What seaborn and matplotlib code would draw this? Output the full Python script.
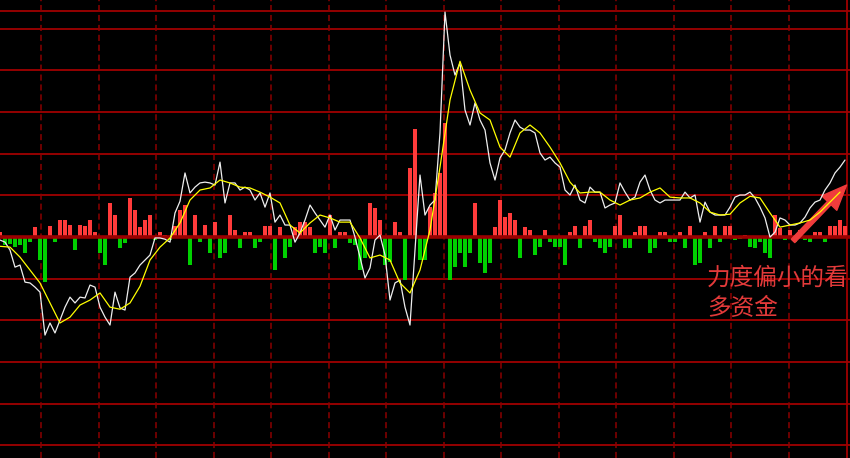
import numpy as np
import pandas as pd
import matplotlib
matplotlib.use("Agg")
import matplotlib.pyplot as plt
import seaborn as sns


# White intraday line (one value every 5 px along the time axis)
price = [-0.7, -1.2, -3.1, -7.2, -6.7, -10.8, -11.0, -12.0, -13.2, -23.5,
         -20.6, -23.0, -19.9, -16.8, -14.4, -15.8, -14.4, -14.6, -11.5, -12.0,
         -16.8, -19.2, -21.1, -13.2, -17.0, -17.5, -9.6, -8.6, -6.7, -5.5,
         -4.3, -0.2, -0.2, -0.5, -1.2, 5.8, 8.6, 15.4, 10.6, 12.0,
         13.0, 13.2, 13.0, 12.5, 18.0, 8.2, 13.0, 13.0, 11.3, 12.0,
         11.3, 8.9, 10.6, 7.2, 10.6, 3.6, 5.3, 2.9, 2.9, -1.2,
         1.0, 4.1, 7.7, 5.8, 4.1, 2.4, 5.3, 1.7, 4.1, 4.1,
         4.1, 0.0, -4.8, -9.8, -7.4, -0.7, 0.5, -4.3, -15.1, -11.0,
         -10.3, -16.8, -21.1, -3.1, 14.9, 5.3, 7.7, 8.9, 25.0, 54.0,
         43.7, 38.9, 41.8, 30.5, 26.9, 32.2, 28.1, 25.7, 17.8, 13.7,
         19.0, 20.9, 25.0, 28.1, 26.4, 25.7, 25.7, 25.0, 20.2, 18.5,
         19.2, 17.8, 16.8, 11.3, 10.1, 12.5, 8.9, 8.2, 12.0, 10.8,
         10.8, 7.0, 7.7, 8.2, 13.0, 10.8, 8.9, 9.6, 13.2, 14.9,
         11.3, 8.9, 8.2, 8.9, 8.9, 8.9, 8.9, 10.8, 9.4, 10.1,
         3.6, 8.4, 6.0, 5.3, 5.3, 5.3, 7.2, 9.6, 10.1, 10.1,
         10.8, 9.4, 7.2, 4.6, 0.0, 1.2, 4.6, 4.1, 2.9, 2.9,
         3.4, 4.8, 7.0, 8.4, 8.9, 11.3, 13.0, 15.4, 16.8, 18.5]

# Yellow average line (every other step)
avg = [-2.2, -2.4, -4.8, -7.9, -11.0, -15.8, -20.6, -19.2, -16.3, -15.1,
       -13.4, -16.8, -17.3, -15.8, -11.8, -5.5, -2.4, -0.2, 3.4, 8.9,
       11.3, 11.8, 13.7, 13.0, 12.0, 11.8, 10.8, 9.6, 8.2, 2.9,
       1.0, 3.4, 5.3, 4.6, 3.6, 3.6, -0.2, -5.0, -4.3, -5.5,
       -11.0, -13.4, -7.9, 1.7, 16.8, 32.9, 42.2, 35.3, 29.8, 28.1,
       21.6, 19.2, 25.0, 26.9, 25.0, 21.6, 17.8, 13.2, 10.6, 10.8,
       10.8, 8.9, 7.7, 8.9, 9.4, 10.8, 11.8, 9.6, 9.4, 9.4,
       8.2, 6.0, 5.3, 5.5, 8.2, 9.8, 9.4, 5.8, 2.4, 2.9,
       3.4, 4.1, 6.0, 8.4, 10.8]

# Money flow bars (red = in, green = out)
flow = [1.2, -1.9, -1.7, -2.4, -1.9, -3.8, -1.2, 2.4, -5.5, -10.8,
        2.6, -1.2, 4.1, 4.1, 2.9, -3.1, 2.9, 2.6, 4.1, 1.2,
        -3.8, -6.7, 8.2, 5.3, -2.6, -1.4, 9.4, 6.5, 2.4, 4.1,
        5.3, -0.7, 1.2, 0.5, -0.7, 2.6, 6.5, 7.7, -6.7, 5.3,
        -1.2, 2.9, -3.8, 3.6, -5.0, -3.8, 5.3, 1.7, -2.6, 1.2,
        1.2, -2.6, -1.2, 2.6, 2.6, -7.9, 2.4, -5.0, -2.4, 2.4,
        3.6, 3.6, 2.4, -3.8, -2.4, -3.8, 5.3, -2.6, 1.2, 1.2,
        -1.4, -1.9, -7.9, -5.0, 8.2, 7.0, 4.1, -6.7, -6.0, 3.6,
        1.2, -10.3, 16.6, 25.9, -5.5, -5.5, 7.2, 10.6, 15.4, 27.4,
        -10.3, -7.2, -3.8, -7.2, -3.8, 8.2, -6.2, -8.6, -6.2, 2.4,
        8.9, 4.8, 5.8, 4.1, -5.0, 2.4, 1.7, -4.3, -2.4, 1.7,
        -1.2, -2.4, -2.4, -6.7, 1.2, 2.6, -2.6, 2.6, 4.1, -1.2,
        -2.6, -3.8, -2.4, 2.6, 5.3, -2.6, -2.6, 1.2, 2.6, 2.6,
        -3.8, -2.6, 1.2, 1.2, -1.2, -1.2, 1.2, -2.6, 2.6, -6.7,
        -6.2, 1.2, -2.6, 2.6, -1.2, 2.6, 2.6, -0.7, -0.5, 0.5,
        -2.4, -2.6, -1.2, -3.8, -5.0, 5.3, 2.2, -0.7, 1.7, -1.2,
        1.7, -0.7, -1.2, 1.2, 1.2, -1.2, 2.6, 2.6, 4.1, 2.6]

note = "力度偏小的看\n多资金"

sns.set_theme(style="dark")
plt.rcParams['font.family'] = ['Noto Sans CJK SC', 'DejaVu Sans']

t = np.arange(len(price))
t_avg = np.arange(len(avg)) * 2

df_bar = pd.DataFrame({"t": t, "v": flow})
df_bar["side"] = np.where(df_bar["v"] >= 0, "up", "down")

fig = plt.figure(figsize=(8.5, 4.58), dpi=100, facecolor="black")
ax = fig.add_axes([0, 0, 1, 1])

# grid: solid red horizontals, dashed dark red verticals
for lvl in range(-50, 51, 10):
    if lvl != 0:
        ax.axhline(lvl, color="#a00000", lw=1.3, zorder=1)
ax.axhline(54.2, color="#a00000", lw=1.3, zorder=1)
for k in range(14):
    ax.axvline(8.2 + 11.5 * k, color="#8b0000", lw=1.1, ls=(0, (4, 2.5)), zorder=1)
ax.axvline(169.4, color="#a00000", lw=1.3, zorder=1)

# flow bars
sns.barplot(data=df_bar, x="t", y="v", hue="side",
            palette={"up": "#ff3b3b", "down": "#00d000"},
            native_scale=True, dodge=False, width=0.75, saturation=1,
            linewidth=0, errorbar=None, legend=False, orient="x",
            ax=ax, zorder=2)

ax.axhline(0, color="#9a0000", lw=2.6, zorder=3)

# price + average
sns.lineplot(x=t, y=price, color="#eeeeee", lw=0.9, ax=ax, zorder=4)
sns.lineplot(x=t_avg, y=avg, color="#ffff00", lw=0.9, ax=ax, zorder=5)

ax.set_xlim(0, 170)
ax.set_ylim(-53.0, 56.9)
ax.axis("off")

# annotation arrow + note
ax.annotate("", xy=(0.996, 0.596), xytext=(0.933, 0.474),
            xycoords="figure fraction", textcoords="figure fraction",
            arrowprops=dict(arrowstyle="simple,head_length=1.8,head_width=1.5,tail_width=0.35",
                            color="#f03c3c", shrinkA=0, shrinkB=0, mutation_scale=10))
fig.text(0.832, 0.418, note, color="#e33a3a", fontsize=17, va="top", ha="left",
         linespacing=1.4, family=['Noto Sans CJK SC', 'DejaVu Sans'])

fig.savefig("out.png", dpi=100, facecolor="black")
